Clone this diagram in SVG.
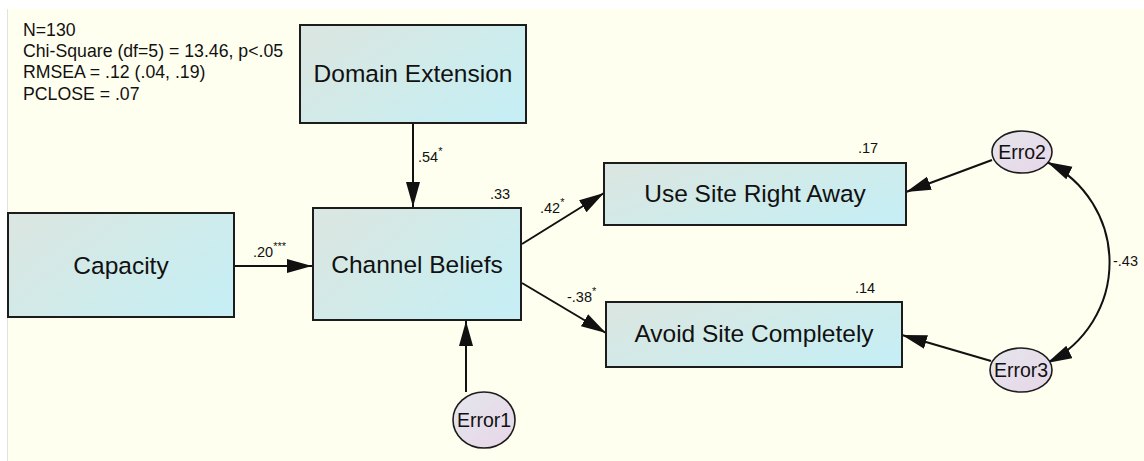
<svg xmlns="http://www.w3.org/2000/svg" width="1144" height="461" viewBox="0 0 1144 461">
  <style>
    .box { stroke: #1c1c1c; stroke-width: 2; fill: url(#boxFill); }
    .err { stroke: #1c1c1c; stroke-width: 1.6; fill: url(#errFill); }
    .lbl { font-family: "Liberation Sans", Arial, sans-serif; font-size: 24.5px; fill: #111; text-anchor: middle; }
    .elbl { font-family: "Liberation Sans", Arial, sans-serif; font-size: 19.5px; fill: #111; text-anchor: middle; }
    .num { font-family: "Liberation Sans", Arial, sans-serif; font-size: 14.5px; fill: #111; }
    .star { font-size: 11px; }
    .stats { font-family: "Liberation Sans", Arial, sans-serif; font-size: 17.7px; fill: #111; }
    .edge { stroke: #111; stroke-width: 2; fill: none; marker-end: url(#head); }
  </style>
  <defs>
    <linearGradient id="boxFill" x1="0" y1="0.2" x2="1" y2="0.8">
      <stop offset="0" stop-color="#dae6e1"/>
      <stop offset="0.5" stop-color="#d0ebea"/>
      <stop offset="1" stop-color="#c6eef4"/>
    </linearGradient>
    <linearGradient id="errFill" x1="0" y1="0" x2="1" y2="1">
      <stop offset="0" stop-color="#e4e6ec"/>
      <stop offset="1" stop-color="#e8d6e8"/>
    </linearGradient>
    <marker id="head" markerUnits="userSpaceOnUse" markerWidth="27" markerHeight="15" refX="25" refY="7" orient="auto-start-reverse">
      <path d="M0,0 L25,7 L0,14 z" fill="#111"/>
    </marker>
  </defs>

  <!-- canvas -->
  <rect x="0" y="0" width="1144" height="461" fill="#ffffff"/>
  <rect x="8" y="9" width="1136" height="452" fill="#fffff0"/>
  <line x1="7.5" y1="9" x2="7.5" y2="461" stroke="#e2e2e2" stroke-width="1"/>

  <!-- fit statistics -->
  <g id="fit-stats" class="stats">
    <text x="23" y="36">N=130</text>
    <text x="23" y="57">Chi-Square (df=5) = 13.46, p&lt;.05</text>
    <text x="23" y="78">RMSEA = .12 (.04, .19)</text>
    <text x="23" y="100">PCLOSE = .07</text>
  </g>

  <!-- paths -->
  <g id="connectors">
    <path class="edge" d="M413 123 L413 207"/>
    <path class="edge" d="M234 266 L312 266"/>
    <path class="edge" d="M522 244 L604 193"/>
    <path class="edge" d="M522 283 L606 333"/>
    <path class="edge" d="M992 160 L906 192"/>
    <path class="edge" d="M991 361 L902 335"/>
    <path class="edge" d="M466 392 L466 321"/>
    <path class="edge" d="M1047 162 A112 112 0 0 1 1047 363" marker-start="url(#head)"/>
  </g>

  <!-- coefficients -->
  <g id="estimates" class="num">
    <text x="418" y="162">.54<tspan class="star" dy="-7">*</tspan></text>
    <text x="253" y="257">.20<tspan class="star" dy="-7">***</tspan></text>
    <text x="540" y="213">.42<tspan class="star" dy="-7">*</tspan></text>
    <text x="567" y="302">-.38<tspan class="star" dy="-7">*</tspan></text>
    <text x="490" y="199">.33</text>
    <text x="858" y="153">.17</text>
    <text x="855" y="293">.14</text>
    <text x="1113" y="266">-.43</text>
  </g>

  <g id="domain-extension">
    <rect class="box" x="300" y="25" width="226" height="98"/>
    <text class="lbl" x="413" y="82">Domain Extension</text>
  </g>
  <g id="capacity">
    <rect class="box" x="8" y="213" width="226" height="104"/>
    <text class="lbl" x="121" y="274">Capacity</text>
  </g>
  <g id="channel-beliefs">
    <rect class="box" x="313" y="208" width="208" height="112"/>
    <text class="lbl" x="417" y="273">Channel Beliefs</text>
  </g>
  <g id="use-site">
    <rect class="box" x="604" y="163" width="302" height="62"/>
    <text class="lbl" x="755" y="202">Use Site Right Away</text>
  </g>
  <g id="avoid-site">
    <rect class="box" x="606" y="302" width="296" height="65"/>
    <text class="lbl" x="754" y="342">Avoid Site Completely</text>
  </g>
  <g id="error1">
    <ellipse class="err" cx="484" cy="420" rx="31" ry="28"/>
    <text class="elbl" x="484" y="427">Error1</text>
  </g>
  <g id="erro2">
    <ellipse class="err" cx="1022" cy="152" rx="30" ry="21"/>
    <text class="elbl" x="1022" y="159">Erro2</text>
  </g>
  <g id="error3">
    <ellipse class="err" cx="1021" cy="370" rx="31" ry="22"/>
    <text class="elbl" x="1021" y="377">Error3</text>
  </g>
</svg>
